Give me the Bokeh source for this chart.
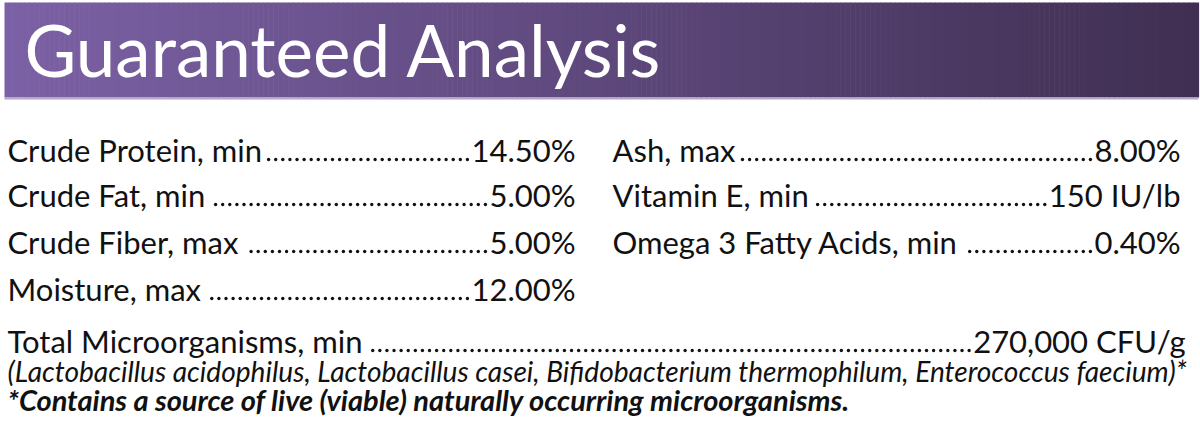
import glob
import os

import numpy as np
from bokeh.core.properties import value
from bokeh.embed import file_html
from bokeh.models import ColumnDataSource, Range1d
from bokeh.plotting import figure
from bokeh.resources import INLINE

# ---------------- data ----------------
title_text = "Guaranteed Analysis"
left_labels = ["Crude Protein, min", "Crude Fat, min", "Crude Fiber, max", "Moisture, max"]
left_values = ["14.50%", "5.00%", "5.00%", "12.00%"]
right_labels = ["Ash, max", "Vitamin E, min", "Omega 3 Fatty Acids, min"]
right_values = ["8.00%", "150 IU/lb", "0.40%"]
total_label = "Total Microorganisms, min"
total_value = "270,000 CFU/g"
strains_note = ("(Lactobacillus acidophilus, Lactobacillus casei, "
                "Bifidobacterium thermophilum, Enterococcus faecium)*")
footnote = "*Contains a source of live (viable) naturally occurring microorganisms."

# ---------------- styling / layout ----------------
FONT = "Lato"
TXT = "#111111"
BODY_SIZE = 31
TITLE_SIZE = 71
ROW_BASE = [161, 206, 253, 300]
LEFT_X, LEFT_END = 7, 575
RIGHT_X, RIGHT_END = 612, 1180
TOTAL_BASE, TOTAL_END = 352, 1185
STRAIN_BASE, FOOT_BASE = 381, 410
SHIFT = 0.387  # baseline correction (em) observed for the svg text placement


def ty(base, size):
    return base - SHIFT * size


def _font_file(name):
    for root in ["/usr/share/fonts", "/usr/local/share/fonts",
                 os.path.expanduser("~/.fonts"), os.path.expanduser("~/.local/share/fonts")]:
        hits = glob.glob(os.path.join(root, "**", name), recursive=True)
        if hits:
            return hits[0]
    return None


FILES = {
    "normal": _font_file("Lato-Regular.ttf"),
    "italic": _font_file("Lato-Italic.ttf"),
    "bold italic": _font_file("Lato-BoldItalic.ttf"),
}


def text_width(text, size, style="normal"):
    f = FILES.get(style)
    if f:
        try:
            from PIL import ImageFont
            return ImageFont.truetype(f, size).getlength(text)
        except Exception:
            pass
    return len(text) * 0.5 * size


def fit_size(text, target, style, default):
    if not FILES.get(style):
        return default
    w = text_width(text, 100, style)
    return max(10, min(60, 100 * target / w))


STRAIN_SIZE = fit_size(strains_note, 1188 - 7, "italic", 24)
FOOT_SIZE = fit_size(footnote, 848 - 7, "bold italic", 25)

p = figure(width=1200, height=433, output_backend="svg", toolbar_location=None,
           x_range=Range1d(0, 1200), y_range=Range1d(433, 0),
           min_border=0, outline_line_color=None)
p.axis.visible = False
p.grid.visible = False
p.background_fill_color = "white"
p.border_fill_color = "white"

# ---------------- header band with gradient ----------------
n = 240
xs = np.linspace(4, 1198, n + 1)
c0 = np.array([123, 97, 165])
c1 = np.array([64, 47, 82])
t = np.linspace(0, 1, n)
cols = ["#%02x%02x%02x" % tuple(int(round(v)) for v in (c0 + (c1 - c0) * ti)) for ti in t]
p.quad(left=xs[:-1], right=xs[1:] + 0.6, top=2, bottom=97, fill_color=cols, line_color=None)
p.quad(left=[4], right=[1198], top=[97], bottom=[99], fill_color="#b6a8c8", line_color=None)

p.text(x=[24], y=[ty(76, TITLE_SIZE)], text=[title_text], text_color="white",
       text_font=value(FONT), text_font_size=f"{TITLE_SIZE}px",
       text_baseline="alphabetic", text_align="left")


# ---------------- rows ----------------
def leader_row(labels, values, x0, x1, bases):
    ys = [ty(b, BODY_SIZE) for b in bases]
    src_l = ColumnDataSource(dict(x=[x0] * len(labels), y=ys[:len(labels)], t=labels))
    src_v = ColumnDataSource(dict(x=[x1] * len(values), y=ys[:len(values)], t=values))
    for src, align in ((src_l, "left"), (src_v, "right")):
        p.text(x="x", y="y", text="t", source=src, text_color=TXT, text_font=value(FONT),
               text_font_size=f"{BODY_SIZE}px", text_baseline="alphabetic", text_align=align)
    dx, dy = [], []
    for lab, val, b in zip(labels, values, bases):
        start = x0 + text_width(lab, BODY_SIZE) + 6
        end = x1 - text_width(val, BODY_SIZE) - 4
        pts = np.arange(end, start, -7.1)
        dx.extend(pts.tolist())
        dy.extend([b - 2] * len(pts))
    p.scatter(x=dx, y=dy, size=3.4, marker="circle", fill_color=TXT, line_color=None)


leader_row(left_labels, left_values, LEFT_X, LEFT_END, ROW_BASE)
leader_row(right_labels, right_values, RIGHT_X, RIGHT_END, ROW_BASE)
leader_row([total_label], [total_value], LEFT_X, TOTAL_END, [TOTAL_BASE])

p.text(x=[LEFT_X], y=[ty(STRAIN_BASE, STRAIN_SIZE)], text=[strains_note], text_color=TXT,
       text_font=value(FONT), text_font_style="italic", text_font_size=f"{STRAIN_SIZE:.1f}px",
       text_baseline="alphabetic", text_align="left")
p.text(x=[LEFT_X], y=[ty(FOOT_BASE, FOOT_SIZE)], text=[footnote], text_color=TXT,
       text_font=value(FONT), text_font_style="bold italic", text_font_size=f"{FOOT_SIZE:.1f}px",
       text_baseline="alphabetic", text_align="left")

open("out.html", "w").write(file_html(p, INLINE))
